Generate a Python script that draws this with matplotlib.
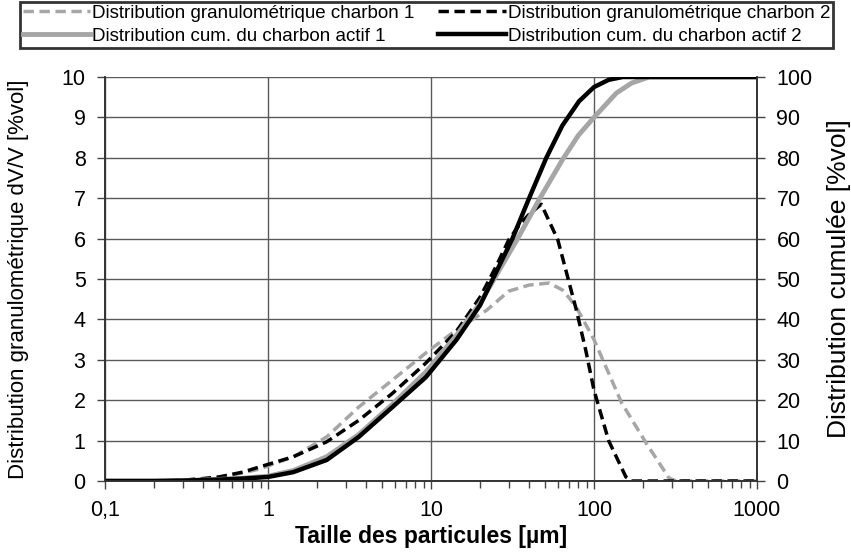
import matplotlib.pyplot as plt
from matplotlib.ticker import FixedLocator, FixedFormatter, LogLocator, NullFormatter

# granulometric distribution dV/V [%vol] (left axis)
x_dist1 = [0.1, 0.2, 0.3, 0.4, 0.5, 0.7, 0.89, 1.43, 2.29, 3.6, 5.8, 9.3, 14.3, 22, 30, 40, 53, 64, 70.5, 78, 100, 148, 209, 289, 320, 1000]
y_dist1 = [0, 0, 0.02, 0.06, 0.1, 0.2, 0.3, 0.6, 1.09, 1.83, 2.5, 3.17, 3.74, 4.23, 4.7, 4.85, 4.9, 4.73, 4.53, 4.3, 3.5, 1.93, 0.94, 0.07, 0, 0]

x_dist2 = [0.1, 0.2, 0.3, 0.4, 0.5, 0.7, 0.89, 1.43, 2.29, 3.6, 5.8, 9.3, 14.3, 20, 25, 30, 35, 40, 47.5, 60, 78, 89, 100, 123, 157, 170, 1000]
y_dist2 = [0, 0, 0.02, 0.06, 0.1, 0.22, 0.35, 0.6, 0.97, 1.5, 2.17, 2.92, 3.7, 4.55, 5.3, 5.97, 6.35, 6.6, 6.85, 5.97, 4.23, 3.24, 2.25, 1.0, 0.1, 0, 0]

# cumulative distribution [%vol] (right axis)
x_cum1 = [0.1, 0.2, 0.3, 0.5, 0.7, 1, 1.43, 2.29, 3.6, 5.8, 9.3, 14.3, 20, 34, 46, 64, 80, 100, 137, 170, 218, 1000]
y_cum1 = [0, 0, 0.1, 0.4, 0.7, 1.2, 2.6, 6, 11.5, 19, 27, 36, 44, 60, 69.6, 79.5, 85.5, 90, 96, 98.5, 100, 100]

x_cum2 = [0.1, 0.2, 0.3, 0.5, 0.7, 1, 1.43, 2.29, 3.6, 5.8, 9.3, 14.3, 20, 31.6, 40, 51, 64, 81, 100, 123, 150, 1000]
y_cum2 = [0, 0, 0.1, 0.35, 0.6, 1, 2.2, 5.2, 10.9, 18.3, 25.7, 34.9, 43.5, 60, 70, 80, 88, 94, 97.5, 99.3, 100, 100]

x_ticks = [0.1, 1, 10, 100, 1000]
x_ticklabels = ['0,1', '1', '10', '100', '1000']

plt.rcParams['font.family'] = ['Liberation Sans', 'DejaVu Sans']

fig = plt.figure(figsize=(8.51, 5.52), dpi=100)
ax = fig.add_axes([0.1234, 0.1286, 0.7661, 0.7319])
ax2 = ax.twinx()

gray = '#a6a6a6'
l1, = ax.plot(x_dist1, y_dist1, color=gray, lw=2.5, dashes=(3, 1.6),
              label='Distribution granulométrique charbon 1')
l2, = ax.plot(x_dist2, y_dist2, color='black', lw=2.5, dashes=(3, 1.6),
              label='Distribution granulométrique charbon 2')
l3, = ax2.plot(x_cum1, y_cum1, color=gray, lw=3.5,
               label='Distribution cum. du charbon actif 1')
l4, = ax2.plot(x_cum2, y_cum2, color='black', lw=3.2,
               label='Distribution cum. du charbon actif 2')

ax.set_xscale('log')
ax.set_xlim(0.1, 1000)
ax.set_ylim(0, 10)
ax2.set_ylim(0, 100)
ax.set_yticks(range(0, 11))
ax2.set_yticks(range(0, 101, 10))
ax.xaxis.set_major_locator(FixedLocator(x_ticks))
ax.xaxis.set_major_formatter(FixedFormatter(x_ticklabels))
ax.xaxis.set_minor_locator(LogLocator(base=10, subs=range(2, 10)))
ax.xaxis.set_minor_formatter(NullFormatter())

ax.grid(True, which='major', color='#5a5a5a', lw=1)
ax.set_axisbelow(True)

for a in (ax, ax2):
    a.tick_params(which='major', direction='out', length=6, width=1, color='#444444',
                  labelsize=15.5, pad=8)
    a.tick_params(which='minor', direction='out', length=5, width=1, color='#444444')
    for s in a.spines.values():
        s.set_color('#333333')
        s.set_linewidth(1.2)
    a.spines['top'].set_visible(False)

ax.set_ylabel('Distribution granulométrique dV/V [%vol]', fontsize=16)
ax.yaxis.set_label_coords(-0.117, 0.5)
ax2.set_ylabel('Distribution cumulée [%vol]', fontsize=19)
ax2.yaxis.set_label_coords(1.107, 0.5)
ax.set_xlabel('Taille des particules [µm]', fontsize=16.5, fontweight='bold')
ax.xaxis.set_label_coords(0.5, -0.11)

leg = fig.legend([l1, l3, l2, l4], [l1.get_label(), l3.get_label(), l2.get_label(), l4.get_label()],
                 ncol=2, loc='upper left', mode='expand',
                 bbox_to_anchor=(20 / 851, 0, 813 / 851, 1 - 2 / 552),
                 prop={'size': 13.5},
                 handlelength=3.6, handletextpad=0.1, borderpad=0.15, labelspacing=0.3,
                 borderaxespad=0, fancybox=False, frameon=True)
leg.get_frame().set_edgecolor('black')
leg.get_frame().set_linewidth(2)

fig.savefig('out.png', dpi=100)
